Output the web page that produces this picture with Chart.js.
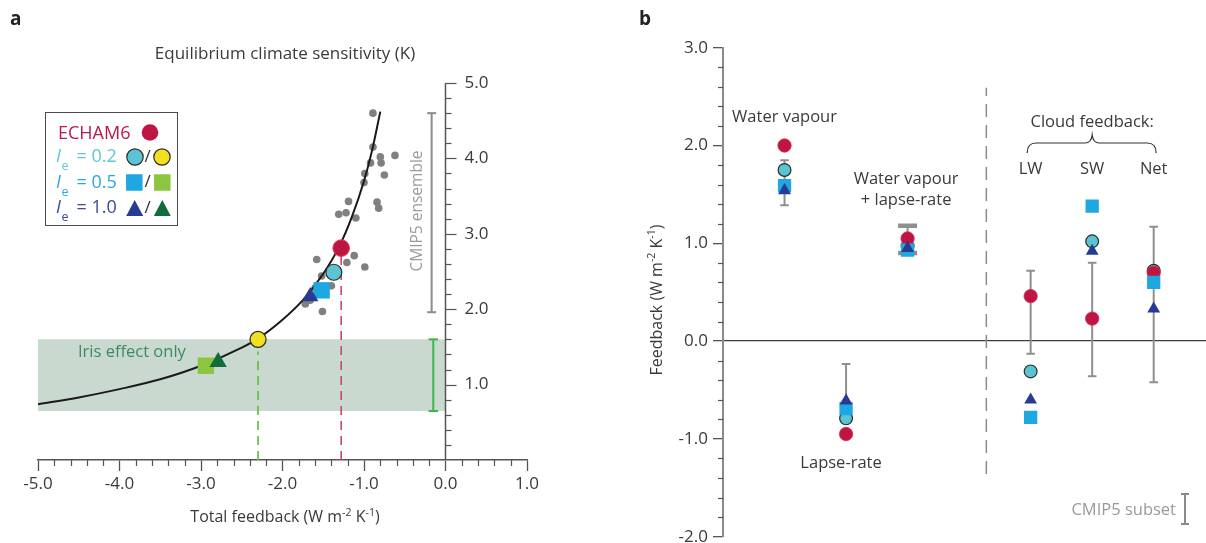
<!DOCTYPE html>
<html>
<head>
<meta charset="utf-8">
<script src="https://cdn.jsdelivr.net/npm/chart.js@4.4.1/dist/chart.umd.min.js"></script>
<style>
html,body{margin:0;padding:0;background:#ffffff;}
#wrap{position:relative;width:1206px;height:543px;overflow:hidden;background:#fff;}
#ca{position:absolute;left:0;top:0;}
#cb{position:absolute;left:600px;top:0;}
</style>
</head>
<body>
<div id="wrap">
<canvas id="ca" width="600" height="543"></canvas>
<canvas id="cb" width="606" height="543"></canvas>
</div>
<script>
const FAM = "'Open Sans','Noto Sans','DejaVu Sans',sans-serif";
const TXT = '#3a3a3a';

/* ---------------- Panel a data ---------------- */
const feedbackTicks = [-5, -4, -3, -2, -1, 0, 1];
const feedbackTickLabels = ['-5.0', '-4.0', '-3.0', '-2.0', '-1.0', '0.0', '1.0'];
const ecsTicks = [1, 2, 3, 4, 5];
const ecsTickLabels = ['1.0', '2.0', '3.0', '4.0', '5.0'];
const curveFeedback = [-5, -4.5, -4, -3.5, -3, -2.5, -2.3, -2, -1.75, -1.5, -1.3, -1.15, -1.0, -0.9, -0.8];
const curveECS = [0.74, 0.83, 0.94, 1.07, 1.25, 1.49, 1.61, 1.86, 2.12, 2.47, 2.84, 3.22, 3.70, 4.11, 4.62];
const cmip5Feedback = [-0.89, -0.89, -0.80, -0.79, -0.62, -0.92, -0.75, -0.99, -1.00, -1.19, -0.84, -0.82, -1.31, -1.22, -1.10, -1.58, -1.12, -1.21, -0.99, -1.52, -1.40, -1.51, -1.72, -1.66, -1.60];
const cmip5ECS = [4.60, 4.15, 4.02, 3.94, 4.04, 3.94, 3.78, 3.80, 3.68, 3.43, 3.42, 3.34, 3.26, 3.28, 3.21, 2.66, 2.71, 2.62, 2.56, 2.44, 2.31, 1.97, 2.07, 2.12, 2.28];
const cmip5EcsRange = [1.96, 4.60];
const irisEcsRange = [0.65, 1.60];
const modelNames = ['ECHAM6', 'Ie = 0.2', 'Ie = 0.5', 'Ie = 1.0'];
const modelFeedback = [-1.28, -1.37, -1.52, -1.66];
const modelECS = [2.81, 2.49, 2.25, 2.17];
const irisFeedback = [-2.30, -2.94, -2.79];   // Ie = 0.2, 0.5, 1.0 (iris effect only)
const irisECS = [1.60, 1.25, 1.30];

/* ---------------- Panel b data ---------------- */
const categories = ['Water vapour', 'Lapse-rate', 'Water vapour + lapse-rate', 'LW', 'SW', 'Net'];
const categoryPos = [1, 2, 3, 5, 6, 7];
const echamFb = [2.00, -0.95, 1.05, 0.46, 0.23, 0.70];
const ie02Fb = [1.75, -0.79, 0.97, -0.31, 1.02, 0.72];
const ie05Fb = [1.59, -0.69, 0.93, -0.78, 1.38, 0.60];
const ie10Fb = [1.54, -0.61, 0.95, -0.60, 0.92, 0.33];
const cmipLo = [1.39, -0.78, 0.90, -0.13, -0.36, -0.42];
const cmipHi = [1.85, -0.235, 1.18, 0.72, 0.80, 1.17];
const fbTicks = [-2, -1, 0, 1, 2, 3];
const fbTickLabels = ['-2.0', '-1.0', '0.0', '1.0', '2.0', '3.0'];
const dividerPos = 4.28;
const dividerRange = [-1.36, 2.59];

/* colours */
const RED = '#be1543', CYAN = '#5ac4d3', BLUE = '#1ea7e0', NAVY = '#283a91';
const YELLOW = '#f2df1e', LGREEN = '#8cc540', DGREEN = '#116c3b', GREY = '#808080';

Chart.defaults.font.family = FAM;

function pts(xs, ys) { return xs.map((x, i) => ({ x: x, y: ys[i] })); }

function richText(ctx, parts, x, y, size, color, align) {
  ctx.save();
  ctx.fillStyle = color; ctx.textBaseline = 'alphabetic'; ctx.textAlign = 'left';
  const fN = size + 'px ' + FAM, fS = (size * 0.66).toFixed(1) + 'px ' + FAM;
  let w = 0;
  parts.forEach(p => { ctx.font = p[1] ? fS : fN; w += ctx.measureText(p[0]).width; });
  let cx = align === 'center' ? x - w / 2 : x;
  parts.forEach(p => {
    ctx.font = p[1] ? fS : fN;
    ctx.fillText(p[0], cx, p[1] ? y - size * 0.38 : y);
    cx += ctx.measureText(p[0]).width;
  });
  ctx.restore();
}
function text(ctx, t, x, y, size, color, align, weight, style) {
  ctx.save();
  ctx.font = (style || '') + ' ' + (weight || 'normal') + ' ' + size + 'px ' + FAM;
  ctx.fillStyle = color; ctx.textAlign = align || 'left'; ctx.textBaseline = 'middle';
  ctx.fillText(t, x, y);
  ctx.restore();
}
function circ(ctx, x, y, r, fill, stroke, lw) {
  ctx.beginPath(); ctx.arc(x, y, r, 0, Math.PI * 2); ctx.fillStyle = fill; ctx.fill();
  if (stroke) { ctx.lineWidth = lw; ctx.strokeStyle = stroke; ctx.stroke(); }
}
function sq(ctx, x, y, s, fill) { ctx.fillStyle = fill; ctx.fillRect(x - s / 2, y - s / 2, s, s); }
function tri(ctx, x, y, b, h, fill) {
  ctx.beginPath(); ctx.moveTo(x, y - h / 2); ctx.lineTo(x + b / 2, y + h / 2); ctx.lineTo(x - b / 2, y + h / 2); ctx.closePath();
  ctx.fillStyle = fill; ctx.fill();
}

/* ---------------- Panel a ---------------- */
const decorA = {
  id: 'decorA',
  afterDraw(chart) {
    const { ctx, scales: { x, y } } = chart;
    const ax = x.getPixelForValue(0), y0 = y.getPixelForValue(0);
    ctx.save();
    ctx.strokeStyle = '#555'; ctx.lineWidth = 1.2;
    for (let k = 1; k < 30; k++) {
      if (k % 5 === 0) continue;
      const px = Math.round(x.getPixelForValue(-5 + k * 0.2)) + 0.5;
      ctx.beginPath(); ctx.moveTo(px, y0); ctx.lineTo(px, y0 + 6); ctx.stroke();
    }
    // ECS axis on the right (at zero feedback)
    ctx.lineWidth = 1.5;
    ctx.beginPath(); ctx.moveTo(ax, y0); ctx.lineTo(ax, y.getPixelForValue(5)); ctx.stroke();
    ctx.lineWidth = 1.2;
    for (let k = 1; k <= 25; k++) {
      const py = Math.round(y.getPixelForValue(k * 0.2)) + 0.5;
      const len = k % 5 === 0 ? 11 : 6;
      ctx.beginPath(); ctx.moveTo(ax, py); ctx.lineTo(ax + len, py); ctx.stroke();
    }
    ecsTicks.forEach((v, i) => text(ctx, ecsTickLabels[i], ax + 19, y.getPixelForValue(v), 17, TXT, 'left'));

    // titles
    text(ctx, 'a', 10, 20, 19, '#222', 'left', 'bold');
    text(ctx, 'Equilibrium climate sensitivity (K)', 285, 54, 17, TXT, 'center');
    richText(ctx, [['Total feedback (W m', 0], ['-2', 1], [' K', 0], ['-1', 1], [')', 0]], 285, 522, 16, TXT, 'center');
    text(ctx, 'Iris effect only', 78, 352, 16.5, '#3b8a66', 'left');
    // rotated CMIP5 ensemble label
    ctx.save();
    ctx.translate(418, 211); ctx.rotate(-Math.PI / 2);
    text(ctx, 'CMIP5 ensemble', 0, 0, 15.5, '#9b9b9b', 'center');
    ctx.restore();

    // legend box
    ctx.strokeStyle = '#4a4a4a'; ctx.lineWidth = 1;
    ctx.strokeRect(45.5, 112.5, 132, 113);
    text(ctx, modelNames[0], 58, 134, 18, '#c0164a', 'left');
    circ(ctx, 150, 132.5, 8.3, RED, null, 0);
    const rows = [[157, '= 0.2', '#63c6d6'], [182.5, '= 0.5', '#2aa9e0'], [208, '= 1.0', '#3a4a9c']];
    rows.forEach(r => {
      text(ctx, 'I', 56, r[0], 18, r[2], 'left', 'normal', 'italic');
      text(ctx, 'e', 61.5, r[0] + 9.5, 12.5, r[2], 'left');
      text(ctx, r[1], 76.5, r[0], 18, r[2], 'left');
      text(ctx, '/', 147.5, r[0], 17, '#333', 'center');
    });
    circ(ctx, 135, 157, 8.2, CYAN, '#2b2b2b', 1.2);
    circ(ctx, 162, 157, 8.2, YELLOW, '#2b2b2b', 1.2);
    sq(ctx, 134.3, 182.5, 16.5, BLUE);
    sq(ctx, 162.3, 182.5, 16.5, LGREEN);
    tri(ctx, 134.7, 208, 17, 16, NAVY);
    tri(ctx, 162.3, 208, 17, 16, DGREEN);
    ctx.restore();
  }
};

const dsA = [
  { label: 'ECHAM6', data: pts([modelFeedback[0]], [modelECS[0]]), pointStyle: 'circle', pointRadius: 8.3, backgroundColor: RED, borderColor: '#e23b52', borderWidth: 1, order: 0 },
  { label: 'Ie=0.2', data: pts([modelFeedback[1]], [modelECS[1]]), pointStyle: 'circle', pointRadius: 8, backgroundColor: CYAN, borderColor: '#2b2b2b', borderWidth: 1.2, order: 1 },
  { label: 'Ie=0.5', data: pts([modelFeedback[2]], [modelECS[2]]), pointStyle: 'rect', pointRadius: 11.6, backgroundColor: BLUE, borderWidth: 0, order: 1 },
  { label: 'Ie=1.0', data: pts([modelFeedback[3]], [modelECS[3]]), pointStyle: 'triangle', pointRadius: 9.5, backgroundColor: NAVY, borderWidth: 0, order: 0 },
  { label: 'Iris Ie=0.2', data: pts([irisFeedback[0]], [irisECS[0]]), pointStyle: 'circle', pointRadius: 8, backgroundColor: YELLOW, borderColor: '#2b2b2b', borderWidth: 1.2, order: 1 },
  { label: 'Iris Ie=1.0', data: pts([irisFeedback[2]], [irisECS[2]]), pointStyle: 'triangle', pointRadius: 10, backgroundColor: DGREEN, borderWidth: 0, order: 1 },
  { label: 'Iris Ie=0.5', data: pts([irisFeedback[1]], [irisECS[1]]), pointStyle: 'rect', pointRadius: 11.6, backgroundColor: LGREEN, borderWidth: 0, order: 1 },
  { label: 'CMIP5', data: pts(cmip5Feedback, cmip5ECS), pointStyle: 'circle', pointRadius: 3.8, backgroundColor: GREY, borderWidth: 0, order: 3 },
  { type: 'line', label: 'curve', data: pts(curveFeedback, curveECS), borderColor: '#1a1a1a', borderWidth: 2, pointRadius: 0, cubicInterpolationMode: 'monotone', fill: false, order: 2 },
  { type: 'line', label: 'echam dash', data: pts([modelFeedback[0], modelFeedback[0]], [0, modelECS[0] - 0.1]), borderColor: '#c9476d', borderWidth: 1.6, borderDash: [9, 6], pointRadius: 0, fill: false, order: 4 },
  { type: 'line', label: 'iris dash', data: pts([irisFeedback[0], irisFeedback[0]], [0, irisECS[0] - 0.16]), borderColor: '#5cbf3a', borderWidth: 1.6, borderDash: [9, 6], pointRadius: 0, fill: false, order: 4 },
  { type: 'line', label: 'cmip5 range', data: pts([-0.17, -0.17], cmip5EcsRange), borderColor: '#8c8c8c', borderWidth: 2, pointStyle: 'line', pointRadius: 4.5, pointBorderWidth: 2, pointBorderColor: '#8c8c8c', fill: false, order: 4 },
  { type: 'line', label: 'iris range', data: pts([-0.15, -0.15], irisEcsRange), borderColor: '#3db54a', borderWidth: 2, pointStyle: 'line', pointRadius: 4.7, pointBorderWidth: 2, pointBorderColor: '#3db54a', fill: false, order: 4 },
  { type: 'line', label: 'iris band', data: pts([-5, 0], [irisEcsRange[1], irisEcsRange[1]]), borderWidth: 0, borderColor: 'rgba(0,0,0,0)', backgroundColor: '#cad9cf', pointRadius: 0, fill: { value: irisEcsRange[0] }, order: 9 }
];

new Chart(document.getElementById('ca'), {
  type: 'scatter',
  data: { datasets: dsA },
  options: {
    responsive: false, animation: false, events: [], devicePixelRatio: 1,
    layout: { autoPadding: false, padding: { left: 38, right: 73, top: 83, bottom: 0 } },
    plugins: { legend: { display: false }, tooltip: { enabled: false }, filler: { propagate: false } },
    scales: {
      x: {
        type: 'linear', min: -5, max: 1, position: 'bottom',
        afterBuildTicks: s => { s.ticks = feedbackTicks.map(v => ({ value: v })); },
        afterFit: s => { s.height = 83; s.paddingLeft = 0; s.paddingRight = 0; },
        border: { display: true, color: '#555', width: 1.5 },
        grid: { drawOnChartArea: false, drawTicks: true, tickLength: 11, tickColor: '#555', tickWidth: 1.3 },
        ticks: { callback: (v, i) => feedbackTickLabels[i], font: { size: 17 }, color: TXT, padding: 3, maxRotation: 0, autoSkip: false }
      },
      y: { type: 'linear', min: 0, max: 5, display: false }
    }
  },
  plugins: [decorA]
});

/* ---------------- Panel b ---------------- */
const decorB = {
  id: 'decorB',
  afterDraw(chart) {
    const { ctx, scales: { x, y } } = chart;
    const ax = chart.chartArea.left;
    ctx.save();
    ctx.strokeStyle = '#555'; ctx.lineWidth = 1.2;
    for (let k = 1; k < 25; k++) {
      if (k % 5 === 0) continue;
      const py = Math.round(y.getPixelForValue(-2 + k * 0.2)) + 0.5;
      ctx.beginPath(); ctx.moveTo(ax - 5, py); ctx.lineTo(ax, py); ctx.stroke();
    }
    text(ctx, 'b', 39, 20, 19, '#222', 'left', 'bold');
    // y title
    ctx.save();
    ctx.translate(56 + 5.5, 300); ctx.rotate(-Math.PI / 2);
    richText(ctx, [['Feedback (W m', 0], ['-2', 1], [' K', 0], ['-1', 1], [')', 0]], 0, 0, 16, TXT, 'center');
    ctx.restore();

    const px = i => x.getPixelForValue(categoryPos[i]);
    text(ctx, categories[0], px(0), 117, 16.5, TXT, 'center');
    text(ctx, 'Water vapour', px(2) - 1.5, 179, 16.5, TXT, 'center');
    text(ctx, '+ lapse-rate', px(2) - 1.5, 200, 16.5, TXT, 'center');
    text(ctx, categories[1], px(1) - 5, 463, 16.5, TXT, 'center');
    text(ctx, 'Cloud feedback:', px(4), 122, 16.5, TXT, 'center');
    text(ctx, categories[3], px(3), 169, 16.5, TXT, 'center');
    text(ctx, categories[4], px(4), 169, 16.5, TXT, 'center');
    text(ctx, categories[5], px(5), 169, 16.5, TXT, 'center');

    // brace
    const bl = px(3) - 3.5, br = px(5) + 2.5, bm = px(4), by = 143;
    ctx.strokeStyle = '#333'; ctx.lineWidth = 1.2;
    ctx.beginPath();
    ctx.moveTo(bl, 153);
    ctx.quadraticCurveTo(bl, by, bl + 9, by);
    ctx.lineTo(bm - 7, by);
    ctx.quadraticCurveTo(bm - 1, by, bm, 135);
    ctx.quadraticCurveTo(bm + 1, by, bm + 7, by);
    ctx.lineTo(br - 9, by);
    ctx.quadraticCurveTo(br, by, br, 153);
    ctx.stroke();

    // CMIP5 subset key
    text(ctx, 'CMIP5 subset', 576, 510, 16.5, '#9a9a9a', 'right');
    ctx.strokeStyle = '#8a8a8a'; ctx.lineWidth = 2;
    ctx.beginPath();
    ctx.moveTo(585, 494); ctx.lineTo(585, 524);
    ctx.moveTo(581, 494); ctx.lineTo(589, 494);
    ctx.moveTo(581, 524); ctx.lineTo(589, 524);
    ctx.stroke();
    ctx.restore();
  }
};

const errDs = categoryPos.map((p, i) => ({
  type: 'line', label: 'cmip ' + categories[i],
  data: pts([p, p], [cmipLo[i], cmipHi[i]]),
  borderColor: '#8f8f8f', borderWidth: 2,
  pointStyle: 'line', pointRadius: i === 2 ? 9.5 : 4.3, pointBorderWidth: i === 2 ? 4.5 : 2, pointBorderColor: '#8f8f8f',
  fill: false, order: 5
}));

const dsB = [
  { label: 'Ie=1.0', data: pts(categoryPos, ie10Fb), pointStyle: 'triangle', pointRadius: 7.4, backgroundColor: NAVY, borderWidth: 0, order: 0 },
  { label: 'Ie=0.5', data: pts(categoryPos, ie05Fb), pointStyle: 'rect', pointRadius: 9.4, backgroundColor: BLUE, borderWidth: 0, order: 1 },
  { label: 'ECHAM6', data: pts(categoryPos, echamFb), pointStyle: 'circle', pointRadius: 6.7, backgroundColor: RED, borderColor: '#d8304e', borderWidth: 0.8, order: 2 },
  { label: 'Ie=0.2', data: pts(categoryPos, ie02Fb), pointStyle: 'circle', pointRadius: 6.4, backgroundColor: CYAN, borderColor: '#2b2b2b', borderWidth: 1.2, order: 3 },
  ...errDs,
  { type: 'line', label: 'divider', data: pts([dividerPos, dividerPos], dividerRange), borderColor: '#8a8a8a', borderWidth: 1.5, borderDash: [13, 8], pointRadius: 0, fill: false, order: 6 }
];

new Chart(document.getElementById('cb'), {
  type: 'scatter',
  data: { datasets: dsB },
  options: {
    responsive: false, animation: false, events: [], devicePixelRatio: 1,
    layout: { autoPadding: false, padding: { left: 0, right: 0, top: 47.7, bottom: 6.3 } },
    plugins: { legend: { display: false }, tooltip: { enabled: false } },
    scales: {
      x: { type: 'linear', min: 0, max: 7.85, display: false },
      y: {
        type: 'linear', min: -2, max: 3, position: 'left',
        afterBuildTicks: s => { s.ticks = fbTicks.map(v => ({ value: v })); },
        afterFit: s => { s.width = 123; s.paddingTop = 0; s.paddingBottom = 0; },
        border: { display: true, color: '#8a8a8a', width: 2 },
        grid: {
          drawOnChartArea: true, drawTicks: true, tickLength: 10, tickColor: '#555', tickWidth: 1.3,
          color: c => (c.tick && c.tick.value === 0) ? '#3d3d3d' : 'rgba(0,0,0,0)', lineWidth: 1.3
        },
        ticks: { callback: (v, i) => fbTickLabels[i], font: { size: 17 }, color: TXT, padding: 5 }
      }
    }
  },
  plugins: [decorB]
});
</script>
</body>
</html>
